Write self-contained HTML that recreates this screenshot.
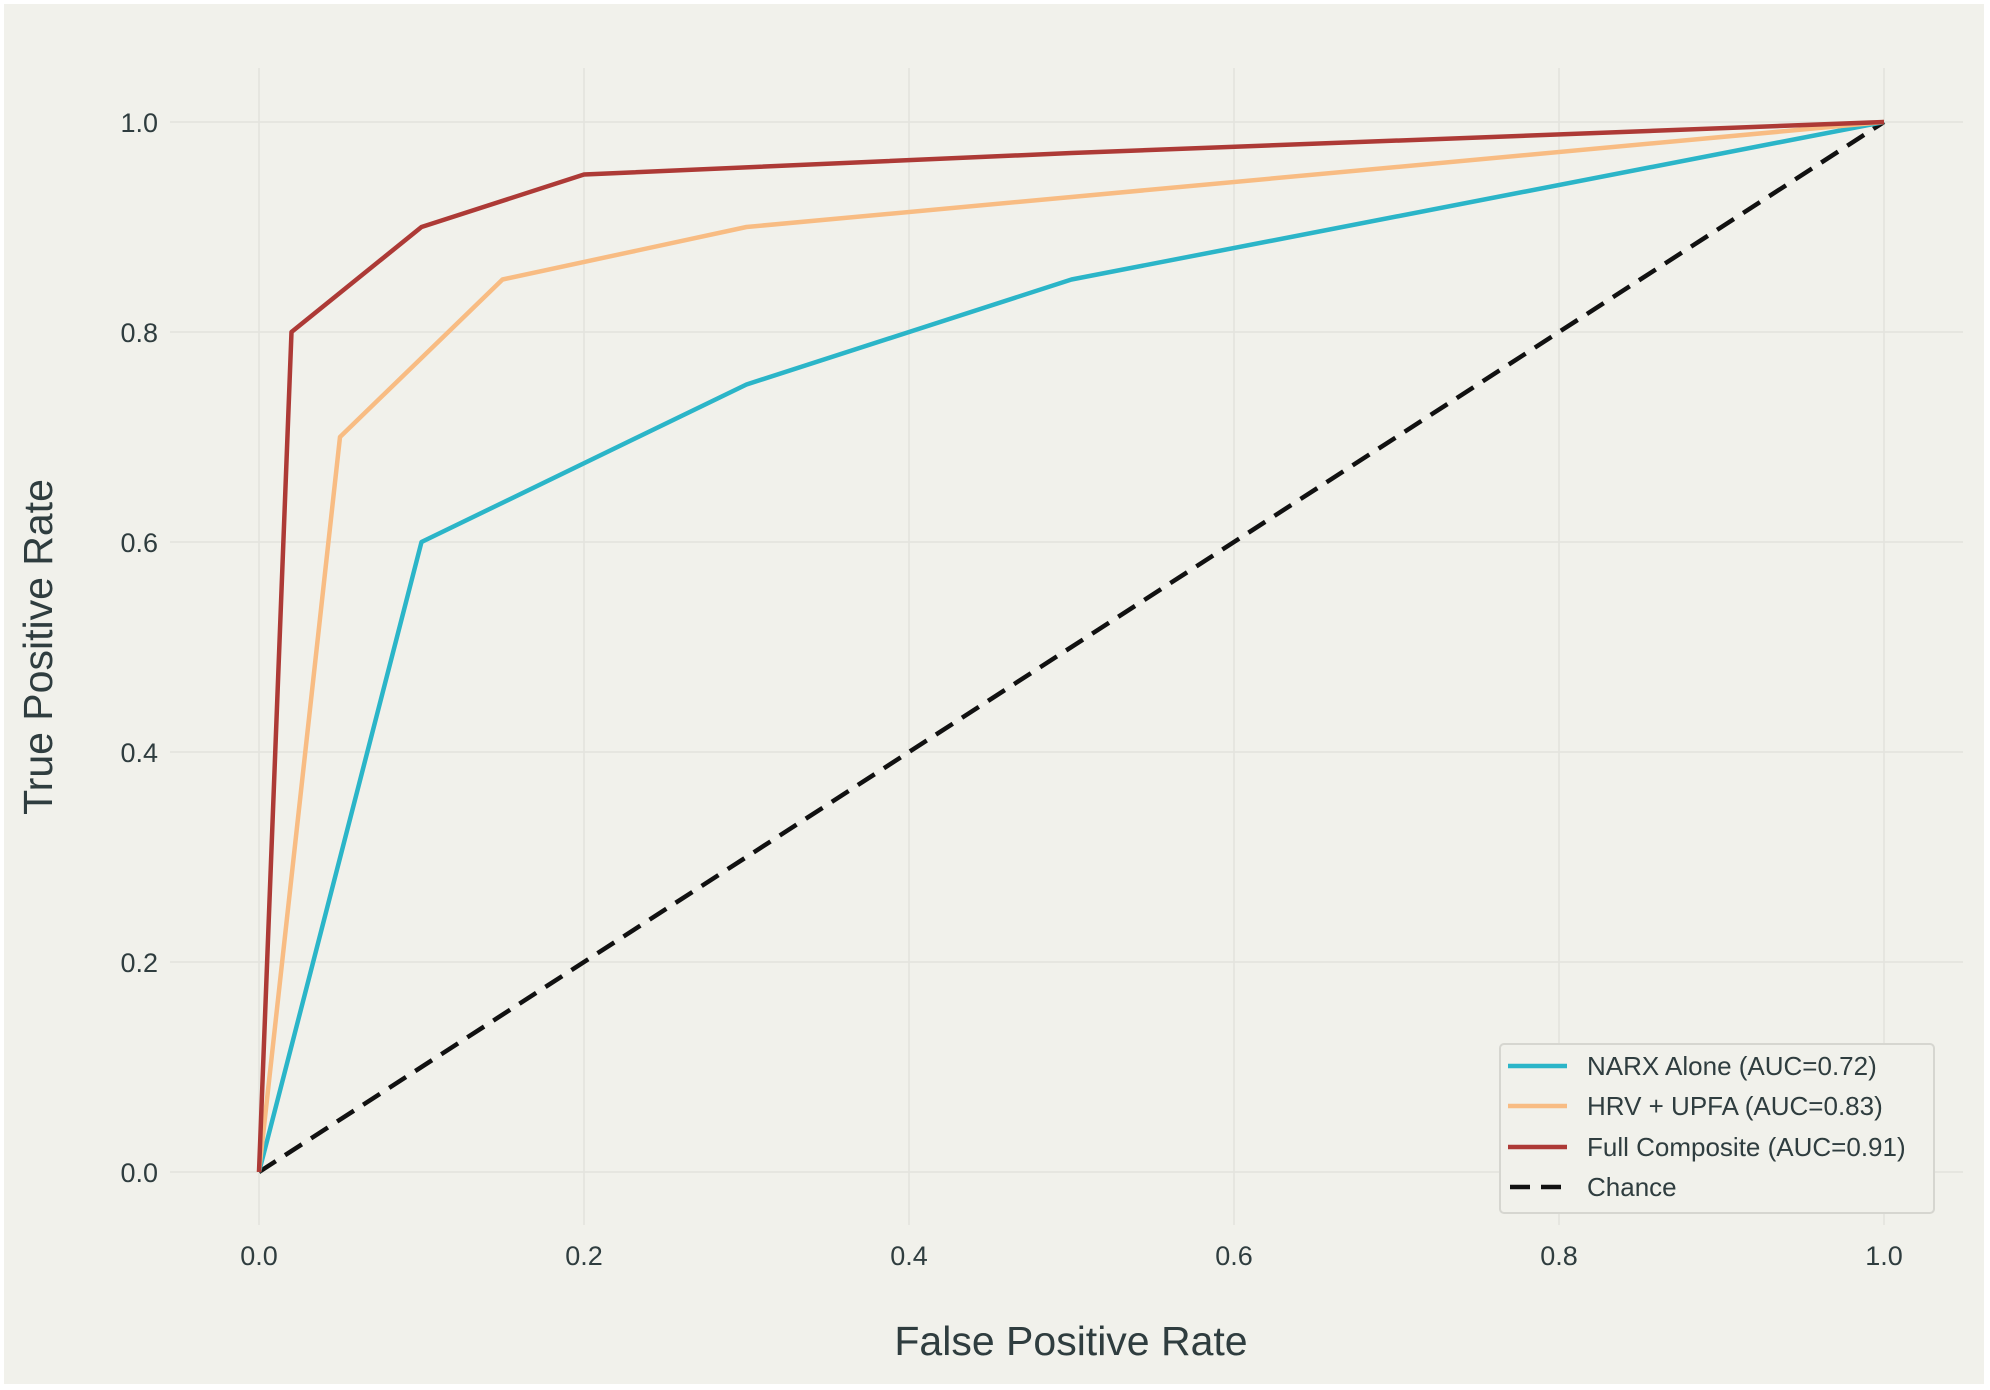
<!DOCTYPE html>
<html><head><meta charset="utf-8"><style>
html,body{margin:0;padding:0;background:#fff;}
svg{display:block;font-family:"Liberation Sans",sans-serif;}
</style></head><body>
<svg width="1990" height="1390" viewBox="0 0 1990 1390" xmlns="http://www.w3.org/2000/svg">
<rect x="0" y="0" width="1990" height="1390" fill="#ffffff"/>
<rect x="4" y="4" width="1980" height="1380" fill="#f1f1eb"/>
<g stroke="#e3e3dd" stroke-width="1.5">
<line x1="170" y1="122" x2="1963" y2="122"/>
<line x1="170" y1="332" x2="1963" y2="332"/>
<line x1="170" y1="542" x2="1963" y2="542"/>
<line x1="170" y1="752" x2="1963" y2="752"/>
<line x1="170" y1="962" x2="1963" y2="962"/>
<line x1="170" y1="1172" x2="1963" y2="1172"/>
<line x1="259" y1="68" x2="259" y2="1225"/>
<line x1="584" y1="68" x2="584" y2="1225"/>
<line x1="909" y1="68" x2="909" y2="1225"/>
<line x1="1234" y1="68" x2="1234" y2="1225"/>
<line x1="1559" y1="68" x2="1559" y2="1225"/>
<line x1="1884" y1="68" x2="1884" y2="1225"/>
</g>
<g fill="#2f3d3f" font-size="27" text-anchor="end">
<text x="158" y="132">1.0</text>
<text x="158" y="342">0.8</text>
<text x="158" y="552">0.6</text>
<text x="158" y="762">0.4</text>
<text x="158" y="972">0.2</text>
<text x="158" y="1182">0.0</text>
</g>
<g fill="#2f3d3f" font-size="27" text-anchor="middle">
<text x="259" y="1265">0.0</text>
<text x="584" y="1265">0.2</text>
<text x="909" y="1265">0.4</text>
<text x="1234" y="1265">0.6</text>
<text x="1559" y="1265">0.8</text>
<text x="1884" y="1265">1.0</text>
</g>
<text x="1071" y="1355" font-size="41" fill="#2f3d3f" text-anchor="middle">False Positive Rate</text>
<text transform="translate(52,647) rotate(-90)" font-size="41" fill="#2f3d3f" text-anchor="middle">True Positive Rate</text>
<g fill="none" stroke-width="4.5" stroke-linejoin="round">
<line x1="259" y1="1172" x2="1884" y2="122" stroke="#111" stroke-dasharray="20,11"/>
<polyline stroke="#2bb5c8" points="259,1172 421.5,542 746.5,384.5 1071.5,279.5 1884,122"/>
<polyline stroke="#f8bc83" points="259,1172 340,437 502.5,279.5 746.5,227 1884,122"/>
<polyline stroke="#ad3a36" points="259,1172 291.5,332 421.5,227 584,174.5 1071.5,153 1884,122"/>
</g>
<rect x="1500" y="1044" width="434" height="169" rx="4" fill="#f1f1eb" stroke="#d6d6d0" stroke-width="2"/>
<g stroke-width="4.5">
<line x1="1508" y1="1066" x2="1567" y2="1066" stroke="#2bb5c8"/>
<line x1="1508" y1="1106" x2="1567" y2="1106" stroke="#f8bc83"/>
<line x1="1508" y1="1147" x2="1567" y2="1147" stroke="#ad3a36"/>
<line x1="1510" y1="1187" x2="1567" y2="1187" stroke="#111" stroke-dasharray="20,11"/>
</g>
<g fill="#2f3d3f" font-size="26">
<text x="1587" y="1075">NARX Alone (AUC=0.72)</text>
<text x="1587" y="1115">HRV + UPFA (AUC=0.83)</text>
<text x="1587" y="1156">Full Composite (AUC=0.91)</text>
<text x="1587" y="1196">Chance</text>
</g>
</svg>
</body></html>
